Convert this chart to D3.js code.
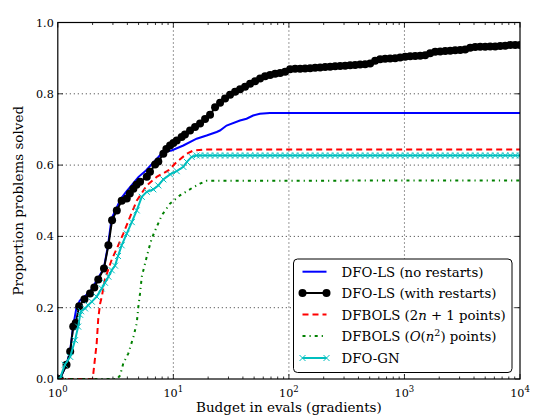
<!DOCTYPE html>
<html><head><meta charset="utf-8">
<script src="https://cdn.jsdelivr.net/npm/d3@7"></script>
<style>
html,body{margin:0;padding:0;background:#fff;}
svg{display:block;}
text{font-family:"DejaVu Serif","Liberation Serif",serif;fill:#000;}
</style></head>
<body>
<svg id="chart" width="536" height="417"></svg>
<script>
// ---------- data (budget in evals, proportion solved) ----------
const seriesNames = ["DFO-LS (no restarts)", "DFO-LS (with restarts)", "DFBOLS (2n+1 points)", "DFBOLS (O(n^2) points)", "DFO-GN"];

const dfolsNoRestarts = [
  [1.04,0],[1.19,0.04],[1.28,0.08],[1.36,0.15],[1.45,0.2],[1.55,0.22],[1.9,0.245],[2.2,0.28],[2.5,0.31],
  [2.72,0.375],[2.92,0.45],[3.2,0.478],[3.5,0.505],[3.9,0.525],[4.4,0.545],[5.0,0.567],[5.8,0.585],
  [6.6,0.605],[7.4,0.622],[8.15,0.637],[9.65,0.641],[12.2,0.655],[15.9,0.674],[19.4,0.683],[23.7,0.693],
  [25.3,0.697],[28.9,0.711],[37.7,0.725],[43,0.73],[49,0.739],[56,0.744],[68.5,0.746],[10000,0.746]
];

const dfolsRestarts = [
  [1.04,0],[1.19,0.04],[1.28,0.077],[1.36,0.147],[1.43,0.157],[1.53,0.204],[1.7,0.224],[1.9,0.24],
  [2.07,0.257],[2.24,0.279],[2.51,0.31],[2.74,0.375],[2.95,0.445],[3.24,0.473],[3.57,0.5],[3.95,0.506],
  [4.2,0.52],[4.51,0.534],[4.8,0.545],[5.15,0.553],[5.89,0.567],[6.28,0.581],[6.95,0.602],[7.41,0.61],
  [8.19,0.632],[8.7,0.645],[9.36,0.655],[10.0,0.662],[10.7,0.669],[11.8,0.679],[12.6,0.686],
  [13.95,0.697],[15.41,0.707],[17.03,0.717],[18.81,0.729],[20.78,0.741],[22.96,0.762],[25.37,0.775],
  [28.03,0.787],[30.97,0.797],[34.21,0.806],[37.8,0.813],[41.76,0.82],[46.14,0.828],[50.98,0.835],
  [56.32,0.843],[62.23,0.849],[68.75,0.853],[75.96,0.856],[83.92,0.858],[92.71,0.862],[102.4,0.869],
  [113.2,0.87],[125.0,0.87],[138.1,0.871],[152.6,0.872],[168.6,0.873],[186.3,0.874],[205.8,0.875],
  [227.4,0.876],[251.2,0.877],[277.5,0.878],[306.6,0.879],[338.8,0.88],[374.3,0.881],[413.5,0.882],
  [456.8,0.883],[504.7,0.885],[557.6,0.893],[616.0,0.897],[680.6,0.898],[751.9,0.899],[830.7,0.9],
  [917.7,0.902],[1014,0.904],[1120,0.905],[1238,0.906],[1368,0.907],[1511,0.908],[1669,0.914],
  [1844,0.918],[2038,0.919],[2251,0.92],[2487,0.921],[2748,0.922],[3036,0.923],[3354,0.924],
  [3706,0.929],[4094,0.931],[4523,0.932],[4997,0.932],[5521,0.933],[6100,0.933],[6739,0.934],
  [7445,0.935],[8226,0.937],[9088,0.937],[10000,0.937]
];

const dfbols2n1 = [
  [1,0],[2.0,0],[2.03,0.016],[2.17,0.1],[2.24,0.17],[2.32,0.21],[2.4,0.23],[2.56,0.28],[2.93,0.335],
  [3.24,0.366],[3.69,0.408],[4.22,0.455],[4.82,0.5],[5.89,0.543],[7.18,0.567],[9.05,0.585],[10.7,0.609],
  [13.1,0.632],[14.9,0.641],[18.8,0.644],[10000,0.644]
];

const dfbolsOn2 = [
  [1,0],[3.26,0],[3.46,0.01],[3.69,0.044],[4.08,0.072],[4.51,0.118],[4.82,0.156],[4.98,0.203],[5.15,0.24],
  [5.33,0.287],[5.69,0.324],[6.08,0.361],[6.5,0.394],[7.18,0.427],[7.94,0.459],[9.36,0.492],[11.4,0.515],
  [14.9,0.538],[17.0,0.548],[19.4,0.556],[10000,0.557]
];

const dfogn = [
  [1.04,0],[1.15,0.04],[1.28,0.062],[1.41,0.109],[1.5,0.147],[1.56,0.18],[1.59,0.19],[1.72,0.198],
  [1.83,0.207],[1.97,0.217],[2.17,0.231],[2.4,0.254],[2.56,0.27],[2.74,0.287],[2.93,0.305],[3.13,0.318],
  [3.32,0.345],[3.57,0.375],[3.95,0.408],[4.37,0.44],[4.82,0.473],[5.33,0.511],[5.89,0.525],[6.71,0.532],
  [7.41,0.543],[8.19,0.56],[9.36,0.574],[10.7,0.583],[12.2,0.595],[13.1,0.609],[14.4,0.623],[15.9,0.627],
  [17.03,0.627],[18.81,0.627],[20.78,0.627],[22.96,0.627],[25.37,0.627],[28.03,0.627],[30.97,0.627],
  [34.21,0.627],[37.8,0.627],[41.76,0.627],[46.14,0.627],[50.98,0.627],[56.32,0.627],[62.23,0.627],
  [68.75,0.627],[75.96,0.627],[83.92,0.627],[92.71,0.627],[102.4,0.627],[113.2,0.627],[125.0,0.627],
  [138.1,0.627],[152.6,0.627],[168.6,0.627],[186.3,0.627],[205.8,0.627],[227.4,0.627],[251.2,0.627],
  [277.5,0.627],[306.6,0.627],[338.8,0.627],[374.3,0.627],[413.5,0.627],[456.8,0.627],[504.7,0.627],
  [557.6,0.627],[616.0,0.627],[680.6,0.627],[751.9,0.627],[830.7,0.627],[917.7,0.627],[1014,0.627],
  [1120,0.627],[1238,0.627],[1368,0.627],[1511,0.627],[1669,0.627],[1844,0.627],[2038,0.627],
  [2251,0.627],[2487,0.627],[2748,0.627],[3036,0.627],[3354,0.627],[3706,0.627],[4094,0.627],
  [4523,0.627],[4997,0.627],[5521,0.627],[6100,0.627],[6739,0.627],[7445,0.627],[8226,0.627],
  [9088,0.627],[10000,0.627]
];

const xTickExps = [0, 1, 2, 3, 4];
const yTickValues = [0.0, 0.2, 0.4, 0.6, 0.8, 1.0];
const xLabel = "Budget in evals (gradients)";
const yLabel = "Proportion problems solved";

// ---------- layout ----------
const svg = d3.select("#chart");
const L = 57.8, R = 520, T = 22.5, B = 379;
const x = d3.scaleLog().domain([1, 1e4]).range([L, R]);
const y = d3.scaleLinear().domain([0, 1]).range([B, T]);

svg.append("defs").append("clipPath").attr("id","clip")
  .append("rect").attr("x",L).attr("y",T).attr("width",R-L).attr("height",B-T);

// grid
const grid = svg.append("g").attr("stroke","#000").attr("stroke-width",0.8).attr("stroke-dasharray","1,3");
[1,2,3].forEach(e=>{
  grid.append("line").attr("x1",x(Math.pow(10,e))).attr("x2",x(Math.pow(10,e))).attr("y1",T).attr("y2",B);
});
yTickValues.slice(1,-1).forEach(v=>{
  grid.append("line").attr("x1",L).attr("x2",R).attr("y1",y(v)).attr("y2",y(v));
});

// series
const plot = svg.append("g").attr("clip-path","url(#clip)");
const line = d3.line().x(d=>x(d[0])).y(d=>y(d[1]));

plot.append("path").datum(dfolsNoRestarts).attr("d",line)
  .attr("fill","none").attr("stroke","#0000ff").attr("stroke-width",2);

plot.append("path").datum(dfolsRestarts).attr("d",line)
  .attr("fill","none").attr("stroke","#000").attr("stroke-width",2);
plot.append("g").selectAll("circle").data(dfolsRestarts).join("circle")
  .attr("cx",d=>x(d[0])).attr("cy",d=>y(d[1])).attr("r",4).attr("fill","#000");

plot.append("path").datum(dfbols2n1).attr("d",line)
  .attr("fill","none").attr("stroke","#ff0000").attr("stroke-width",2).attr("stroke-dasharray","6,4");

plot.append("path").datum(dfbolsOn2).attr("d",line)
  .attr("fill","none").attr("stroke","#008000").attr("stroke-width",2).attr("stroke-dasharray","3,4,1.2,4");

plot.append("path").datum(dfogn).attr("d",line)
  .attr("fill","none").attr("stroke","#00bfbf").attr("stroke-width",2);
const xm = 3;
plot.append("g").selectAll("path").data(dfogn).join("path")
  .attr("d",d=>{const cx=x(d[0]),cy=y(d[1]);return `M${cx-xm},${cy-xm}L${cx+xm},${cy+xm}M${cx-xm},${cy+xm}L${cx+xm},${cy-xm}`;})
  .attr("stroke","#00bfbf").attr("stroke-width",1);

// frame and ticks
svg.append("rect").attr("x",L).attr("y",T).attr("width",R-L).attr("height",B-T)
  .attr("fill","none").attr("stroke","#000").attr("stroke-width",1.2);

const ticks = svg.append("g").attr("stroke","#000").attr("stroke-width",0.8);
for (let e=0;e<4;e++){
  for (let m=2;m<=9;m++){
    const xv = x(m*Math.pow(10,e));
    ticks.append("line").attr("x1",xv).attr("x2",xv).attr("y1",B).attr("y2",B-2.5);
    ticks.append("line").attr("x1",xv).attr("x2",xv).attr("y1",T).attr("y2",T+2.5);
  }
}
xTickExps.forEach(e=>{
  const xv = x(Math.pow(10,e));
  ticks.append("line").attr("x1",xv).attr("x2",xv).attr("y1",B).attr("y2",B-5);
  ticks.append("line").attr("x1",xv).attr("x2",xv).attr("y1",T).attr("y2",T+5);
});
yTickValues.forEach(v=>{
  ticks.append("line").attr("x1",L).attr("x2",L+5).attr("y1",y(v)).attr("y2",y(v));
  ticks.append("line").attr("x1",R).attr("x2",R-5).attr("y1",y(v)).attr("y2",y(v));
});

// tick labels
yTickValues.forEach(v=>{
  svg.append("text").attr("x",L-4).attr("y",y(v)+4).attr("text-anchor","end")
    .attr("font-size",11.2).text(v.toFixed(1));
});
xTickExps.forEach(e=>{
  const t = svg.append("text").attr("x",x(Math.pow(10,e))).attr("y",B+18).attr("text-anchor","middle").attr("font-size",11.2);
  t.append("tspan").text("10");
  t.append("tspan").attr("dy",-5.5).attr("font-size",8.5).text(String(e));
});

// axis labels
svg.append("text").attr("x",(L+R)/2).attr("y",412).attr("text-anchor","middle").attr("font-size",13.5).text(xLabel);
svg.append("text").attr("transform",`translate(23,${(T+B)/2}) rotate(-90)`).attr("text-anchor","middle").attr("font-size",13.5).text(yLabel);

// legend
const lg = svg.append("g");
lg.append("rect").attr("x",293.5).attr("y",259).attr("width",218.5).attr("height",113.5).attr("rx",4)
  .attr("fill","#fff").attr("stroke","#000").attr("stroke-width",1);
const rowY = [271.7, 293, 314.5, 336, 358];
const lx1 = 302.5, lx2 = 326.5, tx = 341.5;
function sample(i, stroke, dash){
  const l = lg.append("line").attr("x1",lx1).attr("x2",lx2).attr("y1",rowY[i]).attr("y2",rowY[i])
    .attr("stroke",stroke).attr("stroke-width",2);
  if (dash) l.attr("stroke-dasharray",dash);
}
sample(0,"#0000ff");
sample(1,"#000");
[lx1,lx2].forEach(cx=>lg.append("circle").attr("cx",cx).attr("cy",rowY[1]).attr("r",4).attr("fill","#000"));
sample(2,"#ff0000","6,4");
sample(3,"#008000","3,4,1.2,4");
sample(4,"#00bfbf");
[lx1,lx2].forEach(cx=>lg.append("path")
  .attr("d",`M${cx-xm},${rowY[4]-xm}L${cx+xm},${rowY[4]+xm}M${cx-xm},${rowY[4]+xm}L${cx+xm},${rowY[4]-xm}`)
  .attr("stroke","#00bfbf").attr("stroke-width",1));

const fs = 13.3;
function ltext(i){ return lg.append("text").attr("x",tx).attr("y",rowY[i]+5).attr("font-size",fs); }
ltext(0).text(seriesNames[0]);
ltext(1).text(seriesNames[1]);
{ const t = ltext(2);
  t.append("tspan").text("DFBOLS (2");
  t.append("tspan").attr("font-style","italic").text("n");
  t.append("tspan").text(" + 1 points)"); }
{ const t = ltext(3);
  t.append("tspan").text("DFBOLS (");
  t.append("tspan").attr("font-style","italic").text("O");
  t.append("tspan").text("(");
  t.append("tspan").attr("font-style","italic").text("n");
  t.append("tspan").attr("dy",-5).attr("font-size",9.5).text("2");
  t.append("tspan").attr("dy",5).text(") points)"); }
ltext(4).text(seriesNames[4]);
</script>
</body></html>
